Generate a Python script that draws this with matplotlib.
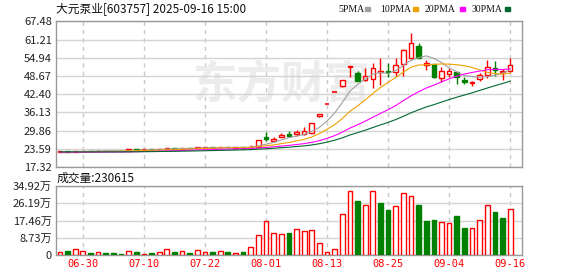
import numpy as np
import matplotlib
matplotlib.use("Agg")
import matplotlib.pyplot as plt
from matplotlib.patches import Rectangle

plt.rcParams['font.family'] = ['Noto Sans CJK SC', 'DejaVu Sans']

# 日K (2025-06-25 ~ 2025-09-16, 60个交易日)
opens = [22.55, 22.90, 22.60, 22.80, 22.95, 22.80, 22.95, 22.90, 22.85, 22.80,
         23.50, 23.30, 23.50, 23.35, 23.55, 23.85, 23.65, 23.90, 23.85, 23.95,
         24.15, 24.05, 24.20, 24.00, 24.25, 24.10, 24.28, 27.72, 26.40, 27.72,
         28.66, 28.70, 28.76, 29.10, 34.90, 39.13, 43.04, 45.30, 51.80, 49.57,
         47.30, 47.50, 50.00, 50.30, 50.12, 52.67, 54.94, 58.97, 52.43, 52.67,
         48.00, 49.22, 49.91, 47.26, 46.33, 47.50, 48.98, 51.29, 49.95, 50.36]
highs = [22.80, 22.95, 22.95, 23.00, 23.00, 23.10, 23.00, 22.95, 22.90, 23.45,
         23.60, 23.50, 23.55, 23.60, 24.00, 23.90, 23.95, 24.00, 24.10, 24.15,
         24.30, 24.20, 24.25, 24.15, 24.30, 24.90, 26.62, 29.26, 27.80, 28.90,
         29.86, 29.90, 30.97, 32.40, 35.57, 39.13, 43.04, 47.34, 52.07, 50.20,
         51.30, 53.20, 54.80, 53.00, 54.94, 57.80, 63.35, 59.90, 54.15, 52.90,
         51.84, 51.29, 50.10, 48.40, 46.80, 49.57, 54.15, 53.80, 51.00, 54.73]
lows = [22.45, 22.50, 22.55, 22.70, 22.75, 22.75, 22.80, 22.75, 22.70, 22.75,
        23.20, 23.25, 23.30, 23.30, 23.50, 23.55, 23.60, 23.75, 23.80, 23.90,
        23.90, 24.00, 24.00, 23.95, 23.90, 24.05, 24.20, 26.35, 26.10, 27.60,
        27.62, 28.10, 28.31, 28.90, 34.60, 39.13, 43.04, 44.80, 48.40, 46.90,
        47.00, 44.40, 45.60, 48.40, 48.64, 48.64, 54.50, 54.70, 50.70, 48.00,
        46.67, 48.19, 45.78, 45.78, 45.30, 46.91, 47.84, 48.74, 47.40, 50.00]
closes = [22.70, 22.60, 22.85, 22.90, 22.80, 22.95, 22.85, 22.80, 22.75, 23.35,
          23.25, 23.45, 23.35, 23.55, 23.80, 23.65, 23.85, 23.80, 24.05, 24.10,
          24.00, 24.15, 24.05, 24.10, 24.00, 24.30, 26.59, 26.83, 27.10, 28.48,
          28.07, 29.30, 29.59, 32.34, 35.57, 39.13, 43.04, 47.34, 52.07, 47.02,
          48.70, 51.30, 50.30, 50.00, 52.43, 57.59, 59.90, 54.94, 53.01, 48.19,
          50.36, 50.50, 48.40, 46.47, 46.67, 48.98, 51.63, 50.70, 50.30, 52.43]
# 窗口之前29日收盘, 只用于均线
pre_closes = [22.9, 22.8, 23.0, 22.9, 22.7, 22.8, 22.9, 22.7, 22.6, 22.8,
              22.7, 22.6, 22.5, 22.7, 22.6, 22.5, 22.6, 22.4, 22.5, 22.3,
              22.2, 22.1, 22.3, 22.2, 22.0, 22.1, 22.3, 22.2, 22.4]
# 成交量 (万)
volumes = [1.35, 2.0, 2.9, 1.85, 1.0, 1.35, 1.0, 1.0, 0.7, 1.85,
           1.5, 0.5, 1.0, 1.5, 2.9, 1.5, 2.0, 1.0, 2.4, 1.5,
           1.7, 1.85, 1.5, 1.0, 1.7, 3.9, 10.0, 17.2, 11.0, 10.6,
           11.3, 13.0, 12.0, 12.5, 5.9, 1.35, 2.9, 20.7, 32.2, 27.3,
           25.3, 32.2, 26.3, 22.8, 24.8, 31.2, 29.8, 25.3, 17.2, 17.7,
           16.7, 16.2, 19.7, 13.7, 13.7, 17.7, 25.3, 21.8, 18.9, 23.06]

tick_pos = [3, 11, 19, 27, 35, 43, 51, 59]
tick_labels = ['06-30', '07-10', '07-22', '08-01', '08-13', '08-25', '09-04', '09-16']
price_ticks = [17.32, 23.59, 29.86, 36.13, 42.40, 48.67, 54.94, 61.21, 67.48]
vol_ticks = [0, 8.73, 17.46, 26.19, 34.92]
ma_periods = [5, 10, 20, 30]
ma_colors = ['#a0a0a0', '#f0a000', '#ff00ff', '#006830']

RED = '#ff0000'
GREEN = '#008000'
GRID = '#d4d4d4'
EDGE = '#999999'


def style_axes(ax):
    for s in ax.spines.values():
        s.set_color(EDGE)
        s.set_linewidth(1)
    ax.tick_params(length=0, labelsize=8, pad=3, colors='#222222')
    ax.yaxis.grid(True, color=GRID, lw=1)
    for p in tick_pos:
        ax.axvline(p, color='#c8c8c8', lw=1, ls=(0, (3, 3)), zorder=0)
    ax.set_axisbelow(True)
    ax.set_xlim(-0.52, 60.55)


def run():
    n = len(closes)
    x = np.arange(n)
    prev = [pre_closes[-1]] + closes[:-1]
    up = [c > o or (c == o and c >= p) for o, c, p in zip(opens, closes, prev)]
    vol_red = [c >= p for c, p in zip(closes, prev)]

    fig = plt.figure(figsize=(5.78, 2.76), dpi=100)
    ax = fig.add_axes([56 / 578, 1 - 167 / 276, 466 / 578, 145.7 / 276])
    ax2 = fig.add_axes([56 / 578, 1 - 255 / 276, 466 / 578, 69 / 276])

    # 主图
    style_axes(ax)
    ax.set_ylim(17.32, 67.48)
    ax.set_yticks(price_ticks)
    ax.set_yticklabels(['%.2f' % v for v in price_ticks])
    ax.set_xticks([])

    ax.text(29.0, 45.5, '东方财富', fontsize=32, color='#ececec', fontweight='bold',
            style='italic', ha='center', va='center', zorder=0)

    for i in range(n):
        col = RED if up[i] else GREEN
        o, c = opens[i], closes[i]
        ax.vlines(i, lows[i], highs[i], color=col, lw=1, zorder=2)
        if abs(c - o) < 0.05:
            ax.hlines(c, i - 0.3, i + 0.3, color=col, lw=1.2, zorder=3)
        else:
            ax.bar(i, abs(c - o), bottom=min(o, c), width=0.6,
                   facecolor='white' if up[i] else GREEN, edgecolor=col, lw=1, zorder=3)

    all_c = pre_closes + closes
    off = len(pre_closes)
    for p, col in zip(ma_periods, ma_colors):
        ma = [np.mean(all_c[off + i - p + 1:off + i + 1]) for i in range(n)]
        ax.plot(x, ma, color=col, lw=0.8, zorder=4)

    # 成交量
    style_axes(ax2)
    ax2.set_ylim(0, 34.92)
    ax2.set_yticks(vol_ticks)
    ax2.set_yticklabels(['0'] + ['%.2f万' % v for v in vol_ticks[1:]], fontsize=8)
    ax2.bar(x, volumes, width=0.62,
            color=['white' if r else GREEN for r in vol_red],
            edgecolor=[RED if r else GREEN for r in vol_red], lw=1, zorder=3)
    ax2.set_xticks(tick_pos)
    ax2.set_xticklabels(tick_labels, color=RED, fontsize=7.5, family='DejaVu Sans Mono')

    # 标题和图例
    fig.text(56 / 578, 1 - 9 / 276, '大元泵业[603757] 2025-09-16 15:00',
             fontsize=8.5, va='center', ha='left', color='#111111')
    fig.text(57 / 578, 1 - 178 / 276, '成交量:230615',
             fontsize=8.5, va='center', ha='left', color='#111111')
    tx = [338, 380, 425, 472]
    sq = [365, 413, 460, 505]
    for t, sx, p, col in zip(tx, sq, ma_periods, ma_colors):
        fig.text(t / 578, 1 - 9 / 276, '%dPMA' % p, family='Liberation Serif',
                 fontsize=7, va='center', ha='left', color='#111111')
        fig.patches.append(Rectangle((sx / 578, 1 - 10.5 / 276), 5 / 578, 3 / 276,
                                     transform=fig.transFigure, color=col))

    fig.savefig('out.png', dpi=100)


if __name__ == "__main__":
    run()
